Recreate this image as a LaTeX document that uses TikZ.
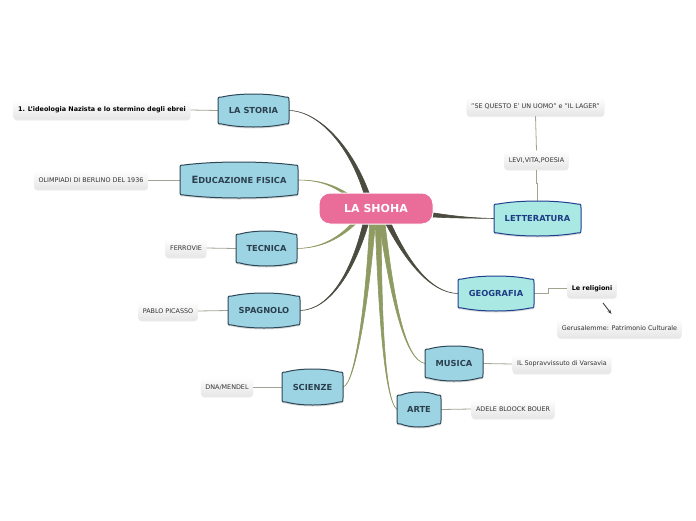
\documentclass[tikz,border=0pt]{standalone}
\usepackage{fontspec}
\setmainfont{DejaVu Sans}
\usetikzlibrary{calc,shadows,arrows.meta}

\definecolor{topicfill}{HTML}{9DD4E3}
\definecolor{topicline}{HTML}{2E4756}
\definecolor{topictext}{HTML}{2B3F4E}
\definecolor{cyanfill}{HTML}{A9E8E3}
\definecolor{cyanline}{HTML}{1F3F8F}
\definecolor{cyantext}{HTML}{1E3C84}
\definecolor{rootfill}{HTML}{E96C99}
\definecolor{darkbranch}{HTML}{4B4B40}
\definecolor{greenbranch}{HTML}{8E9B63}
\definecolor{subline}{HTML}{A3A393}

\pgfdeclarelayer{branches}
\pgfdeclarelayer{boxes}
\pgfsetlayers{branches,boxes,main}

% barrel outline round a topic node: name, fill, border
\newcommand{\barrel}[3]{%
\begin{pgfonlayer}{boxes}
\draw[draw=#3,fill=#2,line width=1pt,drop shadow={opacity=.3,shadow xshift=0pt,shadow yshift=-1.5pt}]
  let \p1=(#1.north west), \p2=(#1.south east), \n1={0.3*(\x2-\x1)} in
  (\x1,\y1-7pt) -- (\x1,\y2+7pt) .. controls (\x1,\y2+3pt) .. (\x1+4pt,\y2+3pt)
  .. controls (\x1+\n1*1pt,\y2-1pt) and (\x2-\n1*1pt,\y2-1pt) .. (\x2-4pt,\y2+3pt)
  .. controls (\x2,\y2+3pt) .. (\x2,\y2+7pt) -- (\x2,\y1-7pt)
  .. controls (\x2,\y1-3pt) .. (\x2-4pt,\y1-3pt)
  .. controls (\x2-\n1*1pt,\y1+1pt) and (\x1+\n1*1pt,\y1+1pt) .. (\x1+4pt,\y1-3pt)
  .. controls (\x1,\y1-3pt) .. cycle;
\end{pgfonlayer}}

% tapered branch from the root: colour, start shift, control 1, control 2, end, half width
\newcommand{\branch}[6]{%
\path ([shift={(#2)}]root.center) coordinate (bs);
\filldraw[#1,line width=.6pt] ($(bs)+(#6)$) .. controls ($(#3)+.5*(#6)$) and (#4) .. (#5)
  .. controls (#4) and ($(#3)-.5*(#6)$) .. ($(bs)-(#6)$) -- cycle;}

\begin{document}
\begin{tikzpicture}
[x=1pt,y=-1pt,
 every node/.style={inner sep=0pt,outer sep=0pt},
 mainbox/.style={rectangle,rounded corners=11pt,fill=rootfill,draw=white,line width=1pt,text=white,
   font=\bfseries\fontsize{11}{13}\selectfont,minimum width=114pt,minimum height=31pt},
 topic/.style={text=topictext,font=\bfseries\fontsize{8.3}{10}\selectfont},
 topicb/.style={topic,text=cyantext},
 leaf/.style={rectangle,rounded corners=3pt,top color=white,bottom color=black!10,text=black!80,
   font=\fontsize{6.4}{8}\selectfont,inner xsep=4.5pt,minimum height=19pt,
   drop shadow={opacity=.12,shadow xshift=0pt,shadow yshift=-1pt}},
 leafb/.style={leaf,text=black,font=\bfseries\fontsize{6.4}{8}\selectfont},
 leafline/.style={draw=subline,line width=.8pt}]
\useasboundingbox (0,0) rectangle (696,520);

\node[mainbox] (root) at (376,208.5) {LA SHOHA};

\node[topic,minimum width=71pt,minimum height=33pt]   (storia)      at (253.5,110.5) {LA STORIA};
\node[topic,minimum width=118pt,minimum height=36pt]  (educazione)  at (239,180)     {{\fontsize{10}{10}\selectfont E}DUCAZIONE FISICA};
\node[topic,minimum width=61pt,minimum height=35pt]   (tecnica)     at (266.5,248.5) {TECNICA};
\node[topic,minimum width=72pt,minimum height=35pt]   (spagnolo)    at (264,310.5)   {SPAGNOLO};
\node[topic,minimum width=61pt,minimum height=36pt]   (scienze)     at (312.5,387)   {SCIENZE};
\node[topic,minimum width=44pt,minimum height=35pt]   (arte)        at (419,409.5)   {ARTE};
\node[topic,minimum width=58pt,minimum height=35pt]   (musica)      at (454,363.5)   {MUSICA};
\node[topicb,minimum width=76pt,minimum height=35pt]  (geografia)   at (496,293.5)   {GEOGRAFIA};
\node[topicb,minimum width=87pt,minimum height=35pt]  (letteratura) at (537.5,218.5) {LETTERATURA};

\foreach \nd in {storia,educazione,tecnica,spagnolo,scienze,arte,musica}
  {\barrel{\nd}{topicfill}{topicline}}
\foreach \nd in {geografia,letteratura}
  {\barrel{\nd}{cyanfill}{cyanline}}

\node[leafb] (ideologia)   at (102,110)     {1. L'ideologia Nazista e lo stermino degli ebrei};
\node[leaf]  (olimpiadi)   at (91,180)      {OLIMPIADI DI BERLINO DEL 1936};
\node[leaf]  (ferrovie)    at (186,248)     {FERROVIE};
\node[leaf]  (picasso)     at (168,311)     {PABLO PICASSO};
\node[leaf]  (mendel)      at (227,387)     {DNA/MENDEL};
\node[leaf]  (bouer)       at (513,409)     {ADELE BLOOCK BOUER};
\node[leaf]  (varsavia)    at (562,364)     {IL Sopravvissuto di Varsavia};
\node[leafb] (religioni)   at (592,288.5)   {Le religioni};
\node[leaf]  (gerusalemme) at (619.5,328.5) {Gerusalemme: Patrimonio Culturale};
\node[leaf]  (levi)        at (536.5,160)   {LEVI,VITA,POESIA};
\node[leaf]  (sequesto)    at (535.5,106.5) {"SE QUESTO E' UN UOMO" e "IL LAGER"};

\begin{pgfonlayer}{branches}
\branch{darkbranch}{-6,-4}{355,150}{320,111}{storia.east}{3,0}
\branch{greenbranch}{-16,-4}{340,188}{325,180}{educazione.east}{1.5,-1.5}
\branch{greenbranch}{-14,6}{345,235}{325,248}{tecnica.east}{1.5,1.5}
\branch{darkbranch}{-8,6}{355,270}{330,310}{spagnolo.east}{3,0}
\branch{greenbranch}{-3,6}{368,300}{355,385}{scienze.east}{3,0}
\branch{greenbranch}{2,6}{380,320}{385,400}{arte.west}{3,0}
\branch{greenbranch}{5,6}{392,300}{405,360}{musica.west}{3,0}
\branch{darkbranch}{8,6}{405,260}{430,293}{geografia.west}{3,0}
\branch{darkbranch}{49,5.5}{450,217}{470,218}{letteratura.west}{0,2.5}

\draw[leafline] (ideologia.east) -- (storia.west);
\draw[leafline] (olimpiadi.east) -- (educazione.west);
\draw[leafline] (ferrovie.east) -- (tecnica.west);
\draw[leafline] (picasso.east) -- (spagnolo.west);
\draw[leafline] (mendel.east) -- (scienze.west);
\draw[leafline] (arte.east) -- (bouer.west);
\draw[leafline] (musica.east) -- (varsavia.west);
\draw[leafline] (geografia.east) -- ++(14,0) |- (religioni.west);
\draw[leafline] (levi.south) -- ++(0,14) -| (letteratura.north);
\draw[leafline] (sequesto.south) -- (levi.north);
\end{pgfonlayer}

\draw[-{Stealth[length=4.5pt]},black!75,line width=.9pt]
  ([shift={(11,5)}]religioni.south) -- ([shift={(-8,-5)}]gerusalemme.north);
\end{tikzpicture}
\end{document}
